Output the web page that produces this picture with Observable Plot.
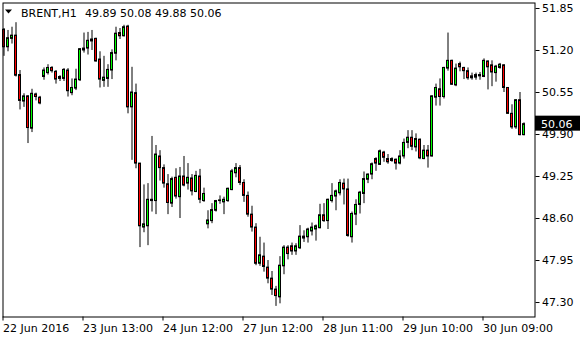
<!DOCTYPE html>
<html><head><meta charset="utf-8">
<script src="https://cdn.jsdelivr.net/npm/d3@7"></script>
<script src="https://cdn.jsdelivr.net/npm/@observablehq/plot@0.6"></script>
<style>html,body{margin:0;padding:0;background:#fff;} svg{display:block}</style>
</head><body><div id="chart"></div>
<script>
const open = [
51.52,51.25,51.38,51.43,50.82,50.41,50.49,49.99,50.52,50.47,
50.79,50.85,50.93,50.87,50.76,50.76,50.89,50.54,50.61,50.74,
51.20,51.23,51.34,51.38,51.06,50.73,50.76,50.89,51.15,51.47,
51.42,51.57,50.32,50.54,49.45,48.46,48.48,48.87,48.87,49.56,
49.38,49.13,48.83,49.23,48.93,49.25,49.14,49.22,49.01,49.25,
48.87,48.51,48.56,48.72,48.87,48.85,48.87,49.04,49.30,49.38,
49.15,48.95,48.66,48.46,47.90,48.01,47.84,47.67,47.50,47.38,
47.86,48.15,48.17,48.09,48.14,48.29,48.31,48.40,48.43,48.45,
48.65,48.56,48.87,48.94,48.99,49.14,49.05,48.31,48.66,48.81,
48.98,49.20,49.28,49.52,49.43,49.62,49.52,49.49,49.51,49.45,
49.56,49.77,49.85,49.70,49.82,49.52,49.65,49.56,50.47,50.60,
50.48,50.92,51.04,50.66,50.99,50.93,50.88,50.80,50.78,50.80,
50.79,51.03,50.97,50.85,50.93,50.97,50.62,50.22,50.01,50.43,
49.89];
const high = [
51.54,51.51,51.56,51.63,50.89,50.53,50.50,50.60,50.54,50.49,
50.93,50.98,50.95,50.89,50.81,50.92,50.92,50.76,50.91,51.23,
51.47,51.48,51.51,51.39,51.18,51.11,50.98,51.21,51.56,51.54,
51.59,51.59,50.94,50.68,49.45,49.12,49.14,49.87,49.73,49.65,
49.43,49.28,49.24,49.37,49.39,49.56,49.45,49.28,49.33,49.36,
49.07,48.72,48.83,48.88,48.95,48.93,49.07,49.36,49.45,49.42,
49.20,49.01,48.79,48.52,48.31,48.22,47.95,47.78,47.55,48.01,
48.18,48.18,48.22,48.21,48.49,48.41,48.45,48.53,48.50,48.82,
48.83,48.90,49.14,49.04,49.20,49.21,49.21,48.70,48.89,49.02,
49.32,49.29,49.46,49.54,49.66,49.64,49.59,49.54,49.52,49.65,
49.83,49.96,49.96,49.91,49.83,49.73,49.73,50.50,50.68,50.76,
50.94,51.47,51.05,50.99,51.02,50.94,50.93,50.85,50.85,50.86,
51.07,51.04,51.04,50.97,51.00,50.98,50.62,50.36,50.44,50.55,
50.08];
const low = [
51.11,51.18,51.30,50.79,50.28,50.32,49.76,49.93,50.42,50.36,
50.74,50.82,50.85,50.68,50.72,50.72,50.48,50.50,50.58,50.72,
51.16,51.13,51.20,51.02,50.62,50.63,50.63,50.75,51.04,51.37,
51.41,50.22,49.50,49.37,48.15,48.38,48.18,48.70,48.66,49.18,
49.07,48.66,48.77,48.90,48.60,49.09,49.04,48.95,49.00,48.83,
48.85,48.44,48.52,48.70,48.82,48.66,48.85,49.03,49.23,49.11,
48.85,48.62,48.39,47.87,47.86,47.77,47.59,47.41,47.24,47.28,
47.73,47.96,48.03,48.03,48.12,48.23,48.22,48.33,48.25,48.44,
48.54,48.43,48.84,48.72,48.95,48.81,48.31,48.22,48.49,48.67,
48.83,49.14,49.20,49.33,49.42,49.47,49.44,49.47,49.35,49.43,
49.52,49.68,49.65,49.63,49.51,49.51,49.38,49.55,50.34,50.34,
50.45,50.88,50.66,50.64,50.87,50.75,50.74,50.74,50.74,50.74,
50.78,50.59,50.64,50.71,50.91,50.55,50.21,49.98,49.98,49.88,
49.88];
const close = [
51.25,51.39,51.43,50.81,50.42,50.49,50.00,50.53,50.48,50.38,
50.89,50.93,50.88,50.75,50.79,50.90,50.57,50.62,50.75,51.22,
51.23,51.35,51.37,51.03,50.75,50.78,50.90,51.16,51.46,51.42,
51.56,50.32,50.55,49.45,48.48,48.51,48.89,48.89,49.59,49.38,
49.14,48.84,49.21,48.94,49.25,49.11,49.23,49.02,49.26,48.89,
48.98,48.57,48.73,48.87,48.88,48.89,49.06,49.33,49.38,49.15,
48.95,48.66,48.46,47.90,48.03,47.85,47.67,47.50,47.40,47.87,
48.15,48.05,48.09,48.17,48.32,48.32,48.43,48.46,48.48,48.65,
48.56,48.89,48.95,49.02,49.15,49.05,48.33,48.67,48.81,49.00,
49.21,49.28,49.44,49.45,49.64,49.54,49.47,49.52,49.45,49.56,
49.77,49.85,49.71,49.83,49.53,49.65,49.56,50.49,50.62,50.48,
50.93,51.04,50.67,50.92,50.94,50.88,50.77,50.77,50.82,50.82,
51.04,50.94,50.86,50.95,50.98,50.62,50.22,50.01,50.43,49.89,
50.06];
const xTickIndex = [0, 20, 40, 60, 80, 100, 120];
const xTickLabels = ["22 Jun 2016","23 Jun 13:00","24 Jun 12:00","27 Jun 12:00","28 Jun 11:00","29 Jun 10:00","30 Jun 09:00"];
const yTicks = [51.85, 51.20, 50.55, 49.90, 49.25, 48.60, 47.95, 47.30];
const symbolLabel = "BRENT,H1";

const bars = open.map((o, i) => ({i, open: o, high: high[i], low: low[i], close: close[i], up: close[i] >= o}));
const last = bars[bars.length - 1];

const chart = Plot.plot({
  width: 580, height: 340,
  marginLeft: 2.5, marginRight: 45.5, marginTop: 2.5, marginBottom: 23.5,
  style: {fontFamily: "DejaVu Sans", fontSize: "11px", color: "#000", background: "#fff", overflow: "visible"},
  x: {type: "linear", domain: [-0.25, 132.75], axis: null},
  y: {domain: [47.076, 51.935], axis: null},
  marks: [
    Plot.ruleX(bars, {x: "i", y1: "low", y2: "high", stroke: "#000", strokeWidth: 1}),
    Plot.rect(bars, {x1: d => d.i - 0.25, x2: d => d.i + 0.25, y1: "open", y2: "close",
      fill: d => d.up ? "#00ff00" : "#ff0000", stroke: "#000", strokeWidth: 1}),
    Plot.frame({stroke: "#000", strokeWidth: 1}),
    Plot.axisY(yTicks, {anchor: "right", label: null, tickSize: 4, tickPadding: 3, tickFormat: d => d.toFixed(2), fill: "#000", stroke: "#000"}),
    Plot.axisX(xTickIndex, {anchor: "bottom", label: null, tickSize: 4, tickPadding: 3, textAnchor: "start", dx: -1,
      tickFormat: d => xTickLabels[xTickIndex.indexOf(d)], fill: "#000", stroke: "#000"})
  ]
});
document.getElementById("chart").appendChild(chart);

const svg = d3.select(chart);
const yc = chart.scale("y").apply(last.close);
svg.append("rect").attr("x", 535).attr("y", yc - 8).attr("width", 45).attr("height", 15).attr("fill", "#000");
svg.append("text").attr("x", 541).attr("y", yc).attr("dy", "0.35em").attr("fill", "#fff").attr("text-anchor", "start")
  .attr("font-family", "DejaVu Sans").attr("font-size", 11).text(last.close.toFixed(2));

svg.append("path").attr("d", "M5,9.5 L12,9.5 L8.5,13.5 Z").attr("fill", "#000");
svg.append("text").attr("x", 21).attr("y", 13).attr("dy", "0.35em").attr("fill", "#000").attr("text-anchor", "start")
  .attr("font-family", "DejaVu Sans").attr("font-size", 11).text(symbolLabel);
svg.append("text").attr("x", 85).attr("y", 13).attr("dy", "0.35em").attr("fill", "#000").attr("text-anchor", "start")
  .attr("font-family", "DejaVu Sans").attr("font-size", 11)
  .text([last.open, last.high, last.low, last.close].map(v => v.toFixed(2)).join(" "));
</script>
</body></html>
